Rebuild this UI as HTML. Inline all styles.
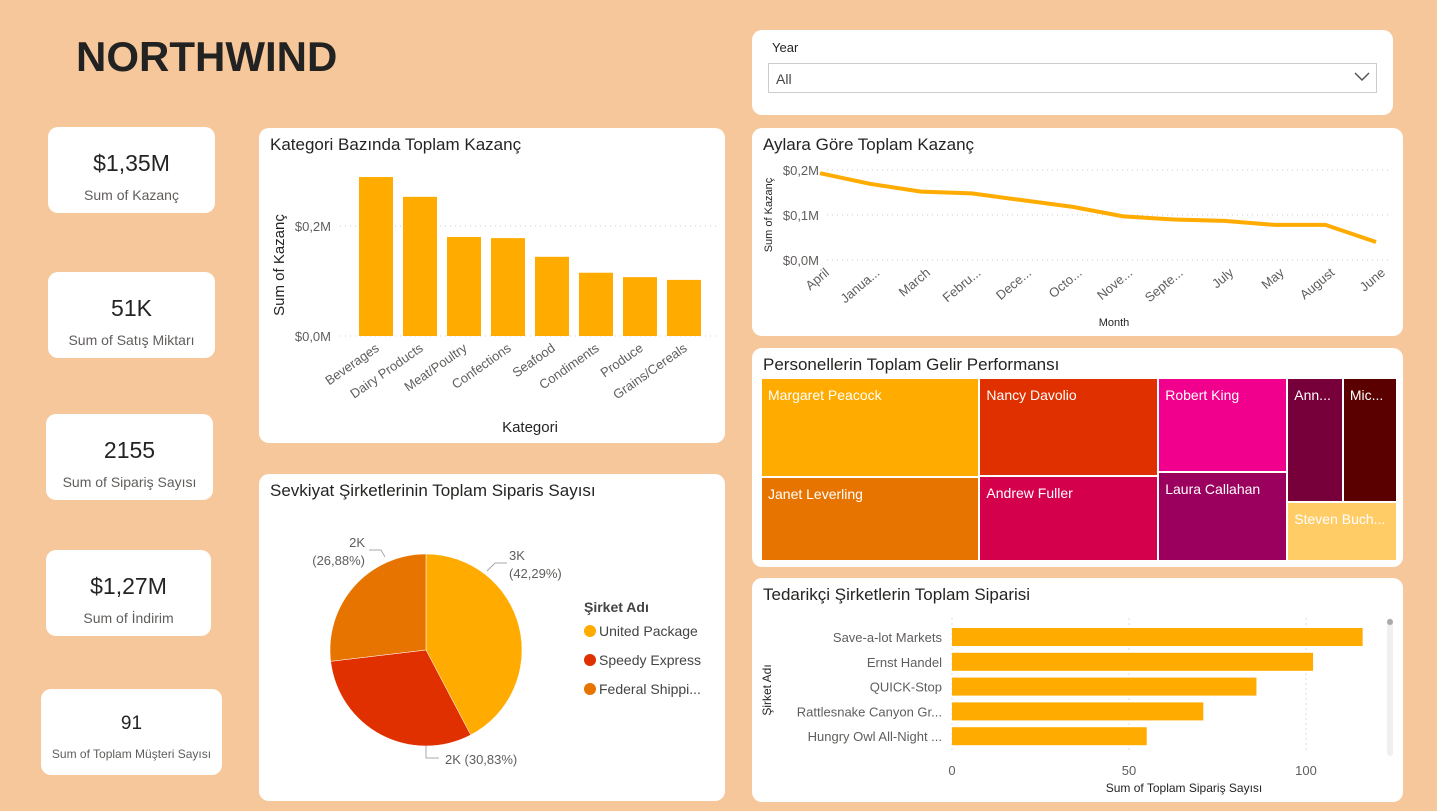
<!DOCTYPE html>
<html><head><meta charset="utf-8">
<style>
body{margin:0;width:1437px;height:811px;background:#F6C79A;font-family:"Liberation Sans",sans-serif;position:relative;overflow:hidden}
.card{position:absolute;background:#fff;border-radius:10px}
.kpi{text-align:center;color:#252423}
.kpi .v{position:absolute;left:0;right:0;font-size:23px}
.kpi .l{position:absolute;left:0;right:0;font-size:14px;color:#605E5C}
.title{position:absolute;left:11px;top:7px;font-size:17px;color:#252423}
svg text{font-family:"Liberation Sans",sans-serif}
.tm{position:absolute;color:#fff;font-size:14px;padding:8px 6px;box-sizing:border-box;overflow:hidden;white-space:nowrap;border-right:2px solid #fff;border-bottom:2px solid #fff}
</style></head><body>
<div style="position:absolute;left:76px;top:33px;font-size:42px;font-weight:bold;color:#222;letter-spacing:0px">NORTHWIND</div>

<div class="card" style="left:752px;top:30px;width:641px;height:85px">
 <div style="position:absolute;left:20px;top:10px;font-size:13px;color:#252423">Year</div>
 <div style="position:absolute;left:16px;top:33px;width:609px;height:30px;border:1px solid #ccc;font-size:14px;color:#444;line-height:30px;padding-left:7px;box-sizing:border-box">All
  <svg style="position:absolute;right:6px;top:8px" width="16" height="10"><polyline points="1,1 8,8 15,1" fill="none" stroke="#555" stroke-width="1.5"/></svg></div>
</div>

<div class="card kpi" style="left:48px;top:127px;width:167px;height:86px"><div class="v" style="top:23px">$1,35M</div><div class="l" style="top:60px">Sum of Kazanç</div></div>
<div class="card kpi" style="left:48px;top:272px;width:167px;height:86px"><div class="v" style="top:23px">51K</div><div class="l" style="top:60px">Sum of Satış Miktarı</div></div>
<div class="card kpi" style="left:46px;top:414px;width:167px;height:86px"><div class="v" style="top:23px">2155</div><div class="l" style="top:60px">Sum of Sipariş Sayısı</div></div>
<div class="card kpi" style="left:46px;top:550px;width:165px;height:86px"><div class="v" style="top:23px">$1,27M</div><div class="l" style="top:60px">Sum of İndirim</div></div>
<div class="card kpi" style="left:41px;top:689px;width:181px;height:86px"><div class="v" style="top:24px;font-size:19px">91</div><div class="l" style="top:58px;font-size:12px">Sum of Toplam Müşteri Sayısı</div></div>

<div class="card" style="left:259px;top:128px;width:466px;height:315px">
 <div class="title">Kategori Bazında Toplam Kazanç</div>
 <svg id="bar" width="466" height="315" style="position:absolute;left:0;top:0"></svg>
</div>

<div class="card" style="left:259px;top:474px;width:466px;height:327px">
 <div class="title">Sevkiyat Şirketlerinin Toplam Siparis Sayısı</div>
 <svg id="pie" width="466" height="327" style="position:absolute;left:0;top:0"></svg>
</div>

<div class="card" style="left:752px;top:128px;width:651px;height:208px">
 <div class="title">Aylara Göre Toplam Kazanç</div>
 <svg id="line" width="651" height="208" style="position:absolute;left:0;top:0"></svg>
</div>

<div class="card" style="left:752px;top:348px;width:651px;height:219px">
 <div class="title">Personellerin Toplam Gelir Performansı</div>
 <div id="tm" style="position:absolute;left:10px;top:31px;width:636px;height:183px"></div>
</div>

<div class="card" style="left:752px;top:578px;width:651px;height:224px">
 <div class="title">Tedarikçi Şirketlerin Toplam Siparisi</div>
 <svg id="hbar" width="651" height="224" style="position:absolute;left:0;top:0"></svg>
</div>

<script>
const NS='http://www.w3.org/2000/svg';
function mk(p,t,a,txt){const e=document.createElementNS(NS,t);for(const k in a)e.setAttribute(k,a[k]);if(txt!==undefined)e.textContent=txt;p.appendChild(e);return e;}

// ---- category bar data
const catNames=['Beverages','Dairy Products','Meat/Poultry','Confections','Seafood','Condiments','Produce','Grains/Cereals'];
const catValues=[0.289,0.253,0.18,0.178,0.144,0.115,0.107,0.102];
const catTicks=[0,0.2];
const catTickLabels=['$0,0M','$0,2M'];
// ---- line data
const months=['April','Janua...','March','Febru...','Dece...','Octo...','Nove...','Septe...','July','May','August','June'];
const monthValues=[0.193,0.169,0.152,0.148,0.133,0.118,0.097,0.09,0.087,0.078,0.078,0.040];
const lineTicks=[0,0.1,0.2];
const lineTickLabels=['$0,0M','$0,1M','$0,2M'];
// ---- pie data
const shipNames=['United Package','Speedy Express','Federal Shippi...'];
const shipValues=[42.29,30.83,26.88];
const shipLabels=['3K','2K (30,83%)','2K'];
const shipPct=['(42,29%)','','(26,88%)'];
const shipColors=['#FFAB00','#E03000','#E87400'];
// ---- treemap data
const tmNames=['Margaret Peacock','Janet Leverling','Nancy Davolio','Andrew Fuller','Robert King','Laura Callahan','Ann...','Mic...','Steven Buch...'];
const tmValues=[232,198,188,164,130,124,74,72,70];
const tmColors=['#FFAB00','#E87400','#E03000','#D4004C','#F0008C','#9B005E','#78003A','#5A0000','#FFCC66'];
// ---- hbar data
const supNames=['Save-a-lot Markets','Ernst Handel','QUICK-Stop','Rattlesnake Canyon Gr...','Hungry Owl All-Night ...'];
const supValues=[116,102,86,71,55];
const supTicks=[0,50,100];

// Bar chart
(function(){const s=document.getElementById('bar');
 const x0=81,y0=208,ky=v=>y0-v/0.2*110,step=44,bw=34;
 catTicks.forEach((t,i)=>{mk(s,'line',{x1:81,x2:460,y1:ky(t),y2:ky(t),stroke:'#ccc','stroke-dasharray':'1,4'});
  const e=mk(s,'text',{x:72,y:ky(t)+5,'text-anchor':'end','font-size':13,fill:'#605E5C'},catTickLabels[i]);});
 catValues.forEach((v,i)=>{const cx=x0+19+step*i+bw/2;
  const r=mk(s,'rect',{x:cx-bw/2,y:ky(v),width:bw,height:y0-ky(v),fill:'#FFAB00'});
  const t=mk(s,'text',{x:cx+4,y:y0+14,'text-anchor':'end','font-size':13,fill:'#605E5C',transform:`rotate(-35 ${cx+4} ${y0+14})`},catNames[i]);});
 const a=mk(s,'text',{x:0,y:0,'font-size':15,fill:'#252423','text-anchor':'middle',transform:'translate(25 137) rotate(-90)'},'Sum of Kazanç');
 const b=mk(s,'text',{x:271,y:304,'font-size':15,fill:'#252423','text-anchor':'middle'},'Kategori');
})();

// Line chart
(function(){const s=document.getElementById('line');
 const x0=68,x1=624,ky=v=>132-v/0.1*45,kx=i=>x0+(x1-x0)*i/(months.length-1);
 lineTicks.forEach((t,i)=>{mk(s,'line',{x1:75,x2:640,y1:ky(t),y2:ky(t),stroke:'#ccc','stroke-dasharray':'1,4'});
  const e=mk(s,'text',{x:67,y:ky(t)+5,'text-anchor':'end','font-size':13,fill:'#605E5C'},lineTickLabels[i]);});
 const p=mk(s,'polyline',{points:monthValues.map((v,i)=>kx(i)+','+ky(v)).join(' '),fill:'none',stroke:'#FFAB00','stroke-width':4,'stroke-linejoin':'round'});
 months.forEach((m,i)=>{const t=mk(s,'text',{x:kx(i)+10,y:146,'text-anchor':'end','font-size':13,fill:'#605E5C',transform:`rotate(-40 ${kx(i)+10} 146)`},m);});
 const a=mk(s,'text',{x:0,y:0,'font-size':11,fill:'#252423','text-anchor':'middle',transform:'translate(20 87) rotate(-90)'},'Sum of Kazanç');
 const b=mk(s,'text',{x:362,y:198,'font-size':11,fill:'#252423','text-anchor':'middle'},'Month');
})();

// Pie chart
(function(){const s=document.getElementById('pie');
 const cx=167,cy=176,r=96,tot=shipValues.reduce((a,b)=>a+b,0);let a0=0;
 shipValues.forEach((v,i)=>{const a1=a0+v/tot*2*Math.PI;
  const p=(a)=>[cx+r*Math.sin(a),cy-r*Math.cos(a)];const [sx,sy]=p(a0),[ex,ey]=p(a1);
  const e=mk(s,'path',{d:`M${cx},${cy}L${sx},${sy}A${r},${r} 0 ${a1-a0>Math.PI?1:0} 1 ${ex},${ey}Z`,fill:shipColors[i],stroke:'#fff','stroke-width':0.5});
  a0=a1;});
 const lab=[[250,86,shipLabels[0],'start'],[250,104,shipPct[0],'start'],[186,290,shipLabels[1],'start'],[106,73,shipLabels[2],'end'],[106,91,shipPct[2],'end']];
 lab.forEach(l=>{const t=mk(s,'text',{x:l[0],y:l[1],'font-size':13,fill:'#605E5C','text-anchor':l[3]},l[2]);});
 mk(s,'polyline',{points:'228,97 236,89 248,89',fill:'none',stroke:'#aaa'});
 mk(s,'polyline',{points:'167,272 167,284 180,284',fill:'none',stroke:'#aaa'});
 mk(s,'polyline',{points:'126,83 122,76 110,76',fill:'none',stroke:'#aaa'});
 const h=mk(s,'text',{x:325,y:138,'font-size':14,'font-weight':'bold',fill:'#444'},'Şirket Adı');
 shipNames.forEach((n,i)=>{const y=157+i*29;mk(s,'circle',{cx:331,cy:y,r:6,fill:shipColors[i]});
  const t=mk(s,'text',{x:340,y:y+5,'font-size':14,fill:'#444'},n);});
})();

// Treemap
(function(){const c=document.getElementById('tm');const W=636,H=183;
 const cols=[[0,1],[2,3],[4,5],[6,7,8]];const tot=tmValues.reduce((a,b)=>a+b,0);let x=0;
 cols.forEach(col=>{const cs=col.reduce((a,i)=>a+tmValues[i],0);const w=W*cs/tot;
  const place=(i,l,t,ww,hh)=>{const d=document.createElement('div');d.className='tm';d.style.cssText=`left:${l}px;top:${t}px;width:${ww}px;height:${hh}px;background:${tmColors[i]}`;d.textContent=tmNames[i];
   c.appendChild(d);};
  if(col.length===2){const h0=H*tmValues[col[0]]/cs;place(col[0],x,0,w,h0);place(col[1],x,h0,w,H-h0);}
  else{const top=tmValues[col[0]]+tmValues[col[1]];const h0=H*top/cs;const w0=w*tmValues[col[0]]/top;
   place(col[0],x,0,w0,h0);place(col[1],x+w0,0,w-w0,h0);place(col[2],x,h0,w,H-h0);}
  x+=w;});
})();

// Horizontal bar
(function(){const s=document.getElementById('hbar');
 const x0=200,kx=v=>x0+v*3.54,y0=50,step=24.8,bh=18;
 supTicks.forEach(t=>{mk(s,'line',{x1:kx(t),x2:kx(t),y1:40,y2:175,stroke:'#ddd','stroke-dasharray':'2,3'});
  const e=mk(s,'text',{x:kx(t),y:197,'text-anchor':'middle','font-size':13,fill:'#605E5C'},t);});
 supValues.forEach((v,i)=>{const y=y0+step*i;
  const r=mk(s,'rect',{x:x0,y:y,width:kx(v)-x0,height:bh,fill:'#FFAB00'});
  const t=mk(s,'text',{x:190,y:y+14,'text-anchor':'end','font-size':13,fill:'#605E5C'},supNames[i]);});
 const a=mk(s,'text',{x:0,y:0,'font-size':12,fill:'#252423','text-anchor':'middle',transform:'translate(19 112) rotate(-90)'},'Şirket Adı');
 const b=mk(s,'text',{x:432,y:214,'font-size':12,fill:'#252423','text-anchor':'middle'},'Sum of Toplam Sipariş Sayısı');
 const sb=mk(s,'rect',{x:635,y:40,width:6,height:138,rx:3,fill:'#f0f0f0'});
 mk(s,'circle',{cx:638,cy:44,r:3,fill:'#aaa'});
})();
</script>
</body></html>
